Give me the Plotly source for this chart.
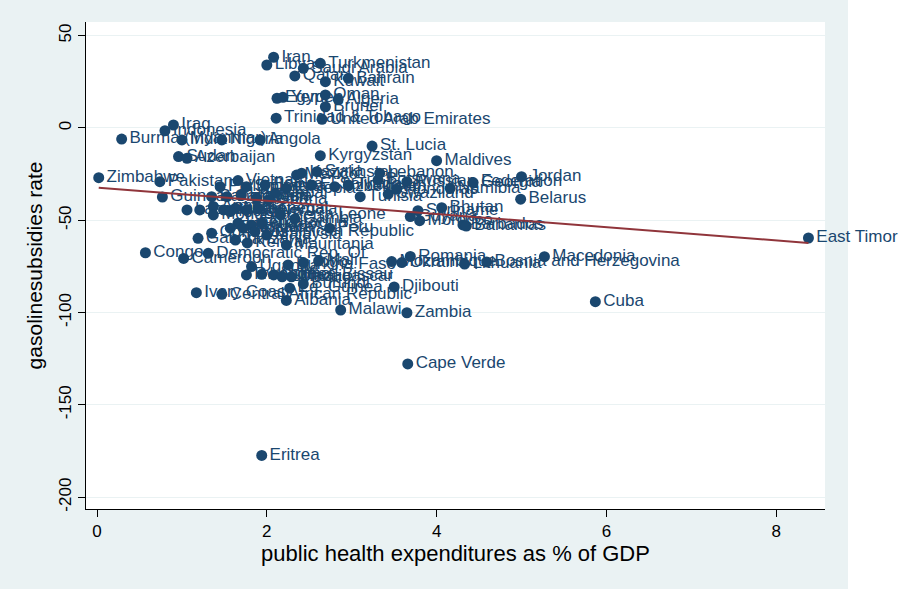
import plotly.graph_objects as go

countries = [
    "Iran", "Libya", "Saudi Arabia", "Turkmenistan", "Qatar", "Bahrain", "Kuwait",
    "Egypt", "Yemen", "Oman", "Algeria", "Brunei", "Trinidad & Tobago", "United Arab Emirates",
    "Iraq", "Indonesia", "Burma (Myanmar)", "India", "Nigeria", "Angola", "Sudan", "Azerbaijan",
    "Kyrgyzstan", "St. Lucia", "Maldives", "Jordan", "Belarus", "Zimbabwe", "Pakistan", "Vietnam",
    "Philippines", "Sri Lanka", "Bolivia", "Nepal", "Ethiopia", "Mexico", "Kazakhstan", "Syria",
    "El Salvador", "Uzbekistan", "Thailand", "Tunisia", "Botswana", "Lebanon", "Swaziland",
    "Honduras", "Russian Federation", "Namibia", "Georgia", "Guinea", "Bangladesh", "Cambodia",
    "Haiti", "Benin", "Ghana", "Laos", "Paraguay", "Armenia", "Chad", "Niger", "Guatemala",
    "Senegal", "Mongolia", "Moldova", "Sierra Leone", "Gambia", "Bhutan", "Suriname", "Guyana",
    "Morocco", "Barbados", "Bahamas", "Liberia", "Ecuador", "Nicaragua", "Tajikistan", "Jamaica",
    "Dominican Republic", "Peru", "Malaysia", "Gabon", "Comoros", "Tanzania", "Kenya", "Mauritania",
    "Congo", "Democratic Rep. Of", "Cameroon", "Uganda", "Burkina Faso", "Togo", "Mali",
    "Mozambique", "Ukraine", "Romania", "Lithuania", "Bosnia and Herzegovina", "Macedonia",
    "Rwanda", "Lesotho", "Guinea-Bissau", "Somalia", "Madagascar", "Burundi", "Eq. Guinea",
    "Ivory Coast", "Central African Republic", "Albania", "Malawi", "Djibouti", "Zambia", "Cuba",
    "Cape Verde", "Eritrea", "East Timor",
]

health_exp = [
    2.08, 2.00, 2.43, 2.63, 2.33, 2.96, 2.69,
    2.12, 2.19, 2.69, 2.84, 2.69, 2.11, 2.65,
    0.90, 0.80, 0.29, 1.00, 1.47, 1.92, 0.96, 1.06,
    2.63, 3.24, 4.00, 5.00, 4.99, 0.02, 0.74, 1.66,
    1.45, 1.76, 1.98, 2.10, 2.23, 2.35, 2.41, 2.59,
    2.53, 2.80, 2.96, 3.10, 3.31, 3.33, 3.43,
    3.53, 3.65, 4.16, 4.43, 0.77, 1.35, 1.53,
    1.70, 1.88, 2.02, 1.06, 1.21, 1.37, 1.49, 1.63, 1.76,
    1.90, 1.37, 1.57, 2.16, 2.33, 4.06, 3.78, 3.69,
    3.80, 4.31, 4.35, 1.66, 1.82, 1.94, 1.57, 1.72,
    1.86, 2.74, 2.00, 1.19, 1.35, 1.63, 1.77, 2.23,
    0.57, 1.31, 1.02, 1.82, 2.25, 2.43, 2.61,
    3.47, 3.59, 3.69, 4.33, 4.59, 5.27,
    1.76, 1.94, 2.08, 2.18, 2.29, 2.43, 2.27,
    1.17, 1.47, 2.23, 2.87, 3.50, 3.65, 5.87,
    3.66, 1.94, 8.38,
]

gasoline_subsidy = [
    38.3, 34.1, 32.3, 35.0, 28.2, 26.9, 25.1,
    16.1, 16.6, 17.9, 15.5, 11.5, 5.3, 4.7,
    1.6, -1.5, -6.0, -6.5, -6.5, -6.5, -15.5, -16.4,
    -15.0, -9.8, -17.7, -26.4, -38.6, -26.9, -29.1, -28.5,
    -31.8, -31.8, -30.9, -35.4, -32.7, -25.5, -24.5, -23.7,
    -30.9, -31.8, -30.9, -37.2, -28.2, -24.5, -35.8,
    -33.2, -29.1, -32.7, -29.6, -37.4, -37.2, -37.2,
    -36.3, -38.1, -39.0, -44.4, -44.4, -42.6, -44.4, -43.5, -44.4,
    -43.5, -47.1, -45.3, -47.1, -49.3, -43.2, -44.8, -48.0,
    -50.2, -52.5, -53.1, -51.6, -52.5, -51.6, -54.3, -54.3,
    -56.2, -54.3, -58.0, -59.8, -57.0, -60.7, -62.3, -63.4,
    -67.6, -67.9, -70.7, -75.1, -74.2, -72.9, -72.0,
    -72.4, -72.9, -69.6, -73.7, -72.6, -69.7,
    -79.6, -79.3, -79.6, -80.6, -80.6, -84.5, -86.8,
    -89.2, -90.1, -93.4, -98.6, -86.1, -100.1, -94.1,
    -127.8, -177.4, -59.6,
]

# linear fit
fit_intercept = -32.3
fit_slope = -3.58

x_ticks = [0, 2, 4, 6, 8]
y_ticks = [-200, -150, -100, -50, 0, 50]

navy = "#1A476F"
maroon = "#90353B"
bg = "#EAF2F3"
font_family = "Liberation Sans, Arial, sans-serif"

fit_x = [min(health_exp), max(health_exp)]
fit_y = [fit_intercept + fit_slope * v for v in fit_x]

fig = go.Figure()
fig.add_trace(go.Scatter(
    x=health_exp, y=gasoline_subsidy, mode="markers+text",
    text=countries, textposition="middle right",
    textfont=dict(family=font_family, size=17, color=navy),
    marker=dict(color=navy, size=11, line=dict(width=0)),
    cliponaxis=False, showlegend=False, hoverinfo="text",
))
fig.add_trace(go.Scatter(
    x=fit_x, y=fit_y, mode="lines",
    line=dict(color=maroon, width=2), showlegend=False, hoverinfo="skip",
))

fig.update_layout(
    width=902, height=589, autosize=False,
    margin=dict(l=86, r=77, t=22, b=80),
    paper_bgcolor=bg, plot_bgcolor="white",
    font=dict(family=font_family, color="black"),
    shapes=[dict(type="rect", xref="paper", yref="paper",
                 x0=1.0311, x1=1.2, y0=-0.3, y1=1.2,
                 fillcolor="white", line=dict(width=0), layer="below")],
)
fig.update_xaxes(
    range=[-0.13, 8.575], tickvals=x_ticks, ticktext=[str(v) for v in x_ticks],
    showline=True, linecolor="black", linewidth=1, mirror=False,
    ticks="outside", ticklen=7, tickcolor="black", tickwidth=1,
    showgrid=False, zeroline=False, tickfont=dict(size=17),
    title=dict(text="public health expenditures as % of GDP", font=dict(size=22), standoff=5),
)
fig.update_yaxes(
    range=[-206.4, 57.4], tickvals=y_ticks, ticktext=[str(v) for v in y_ticks],
    tickangle=-90,
    showline=True, linecolor="black", linewidth=1,
    ticks="outside", ticklen=7, tickcolor="black", tickwidth=1,
    showgrid=True, gridcolor=bg, gridwidth=1, zeroline=False, tickfont=dict(size=17),
    title=dict(text="gasolinesubsidies rate", font=dict(size=21), standoff=7),
)

fig.write_html("out.html")
